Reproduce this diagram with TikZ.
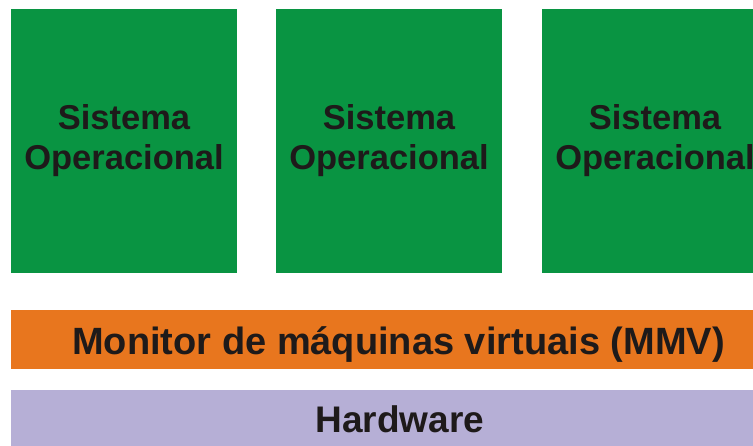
\documentclass[tikz,border=0pt]{standalone}
\usepackage{fontspec}
\setmainfont{Liberation Sans}
\usepackage{xcolor}
\usepackage{tikz}
\usetikzlibrary{shapes,arrows,positioning}

\definecolor{sogreen}{RGB}{9,148,66}
\definecolor{mmvorange}{RGB}{232,118,30}
\definecolor{hwpurple}{RGB}{182,175,214}
\definecolor{labeltext}{RGB}{30,26,26}

\tikzset{
    osbox/.style={fill=sogreen, draw=none},
    ostext/.style={align=center, text=labeltext,
        font=\fontsize{34.5pt}{40pt}\selectfont\bfseries},
    bartext/.style={anchor=base, text=labeltext, inner sep=0pt}
}

\begin{document}
\begin{tikzpicture}[x=1pt, y=-1pt]
                \useasboundingbox (0,0) rectangle (753,445);
                \clip (0,0) rectangle (753,445);

                \draw[
                    osbox
                ] (11,9) rectangle (237,273) node[pos=.5, ostext] (so1) {Sistema\\Operacional};

                \draw[
                    osbox
                ] (276,9) rectangle (502,273) node[pos=.5, ostext] (so2) {Sistema\\Operacional};

                \draw[
                    osbox
                ] (542,9) rectangle (768,273) node[pos=.5, ostext] (so3) {Sistema\\Operacional};

                \draw[
                    fill=mmvorange,
                    draw=none
                ] (11,309.5) rectangle (760,368.5);

                \draw[
                    fill=hwpurple,
                    draw=none
                ] (11,390) rectangle (760,450);

                \node[bartext, font=\fontsize{38pt}{44pt}\selectfont\bfseries] (mmv) at (398.5,354) {Monitor de máquinas virtuais (MMV)};

                \node[bartext, font=\fontsize{37pt}{43pt}\selectfont\bfseries] (hw) at (400,432) {Hardware};

            \end{tikzpicture}
\end{document}
